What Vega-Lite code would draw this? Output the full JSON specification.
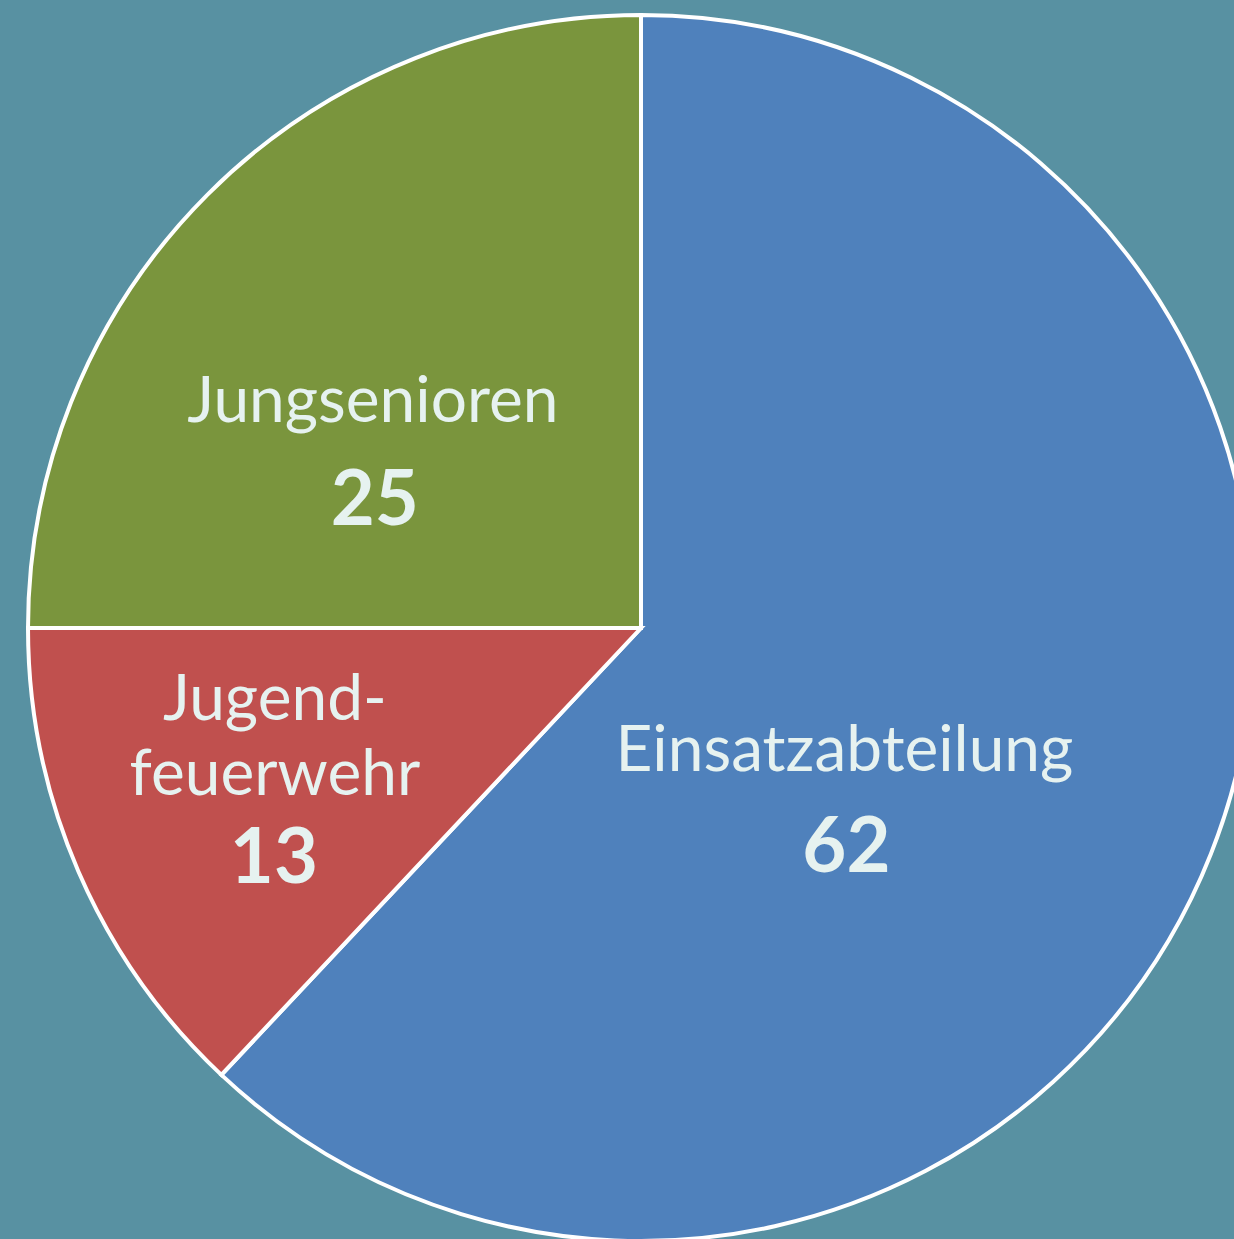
{
  "$schema": "https://vega.github.io/schema/vega-lite/v6.json",
  "autosize": {"type": "none"},
  "width": 1282,
  "height": 1256,
  "padding": 0,
  "background": "#5891A2",
  "view": {"stroke": null},
  "data": {
    "values": [
      {"category": "Einsatzabteilung", "label": "Einsatzabteilung", "value": 62, "order": 1},
      {"category": "Jugendfeuerwehr", "label": "Jugend-\nfeuerwehr", "value": 13, "order": 2},
      {"category": "Jungsenioren", "label": "Jungsenioren", "value": 25, "order": 3}
    ]
  },
  "encoding": {
    "theta": {"field": "value", "type": "quantitative", "stack": true},
    "order": {"field": "order", "type": "quantitative", "sort": "ascending"}
  },
  "layer": [
    {
      "mark": {"type": "arc", "outerRadius": 613, "stroke": "#FFFFFF", "strokeWidth": 4},
      "encoding": {
        "color": {
          "field": "category",
          "type": "nominal",
          "scale": {
            "domain": ["Einsatzabteilung", "Jugendfeuerwehr", "Jungsenioren"],
            "range": ["#4F81BC", "#C0504E", "#7A953D"]
          },
          "legend": null
        }
      }
    },
    {
      "mark": {
        "type": "text",
        "font": "Lato",
        "fontSize": 64,
        "fill": "#E6F2F0",
        "align": "center",
        "baseline": "alphabetic",
        "lineBreak": "\n",
        "lineHeight": 75,
        "radius": {"expr": "datum.category == 'Einsatzabteilung' ? 250 : datum.category == 'Jugendfeuerwehr' ? 400 : 300"},
        "dx": {"expr": "datum.category == 'Einsatzabteilung' ? -29 : datum.category == 'Jugendfeuerwehr' ? 1 : -56"},
        "dy": {"expr": "datum.category == 'Einsatzabteilung' ? 51 : datum.category == 'Jugendfeuerwehr' ? -67 : 6"}
      },
      "encoding": {
        "text": {"field": "label", "type": "nominal"}
      }
    },
    {
      "mark": {
        "type": "text",
        "font": "Lato",
        "fontSize": 76,
        "fontWeight": "bold",
        "fill": "#E6F2F0",
        "align": "center",
        "baseline": "alphabetic",
        "radius": {"expr": "datum.category == 'Einsatzabteilung' ? 250 : datum.category == 'Jugendfeuerwehr' ? 400 : 300"},
        "dx": {"expr": "datum.category == 'Einsatzabteilung' ? -27 : datum.category == 'Jugendfeuerwehr' ? 0 : -54"},
        "dy": {"expr": "datum.category == 'Einsatzabteilung' ? 152 : datum.category == 'Jugendfeuerwehr' ? 96 : 109"}
      },
      "encoding": {
        "text": {"field": "value", "type": "quantitative"}
      }
    }
  ]
}
